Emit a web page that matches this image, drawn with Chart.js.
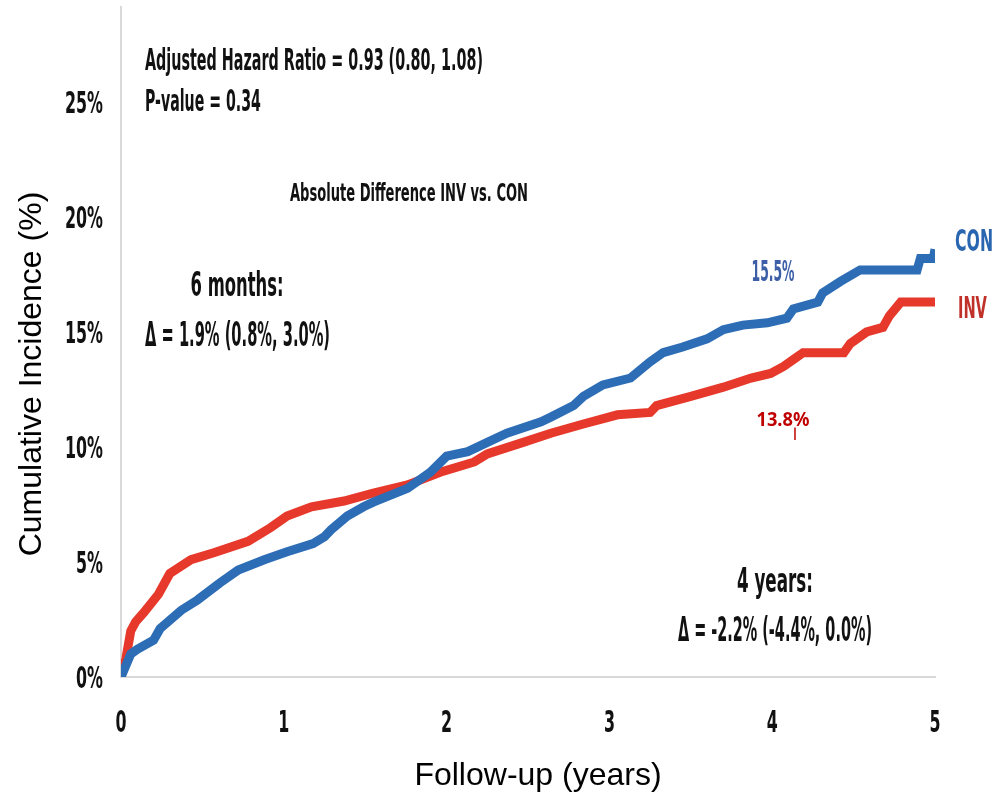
<!DOCTYPE html>
<html>
<head>
<meta charset="utf-8">
<script src="https://cdn.jsdelivr.net/npm/chart.js@4.4.1/dist/chart.umd.min.js"></script>
<style>
    html, body { margin: 0; padding: 0; background: #fff; }
    #wrap { width: 997px; height: 798px; }
</style>
</head>
<body>
<div id="wrap"><canvas id="kmChart" width="997" height="798"></canvas></div>
<script>
// tick values
const xTicks = [0, 1, 2, 3, 4, 5];
const yTicks = [0, 5, 10, 15, 20, 25];

// CON arm (blue) - years / cumulative incidence %
const conYears = [0, 0.06, 0.1, 0.2, 0.24, 0.37, 0.47, 0.61, 0.72, 0.88, 1.02, 1.18, 1.25, 1.29, 1.39, 1.49, 1.55, 1.76, 1.9, 2.0, 2.13, 2.25, 2.37, 2.58, 2.64, 2.78, 2.84, 2.96, 3.13, 3.25, 3.33, 3.45, 3.6, 3.7, 3.82, 3.97, 4.09, 4.13, 4.28, 4.31, 4.42, 4.54, 4.89, 4.91, 4.99, 5.0];
const conPct   = [0, 1.0, 1.2, 1.6, 2.1, 2.9, 3.35, 4.1, 4.65, 5.1, 5.45, 5.8, 6.1, 6.4, 7.0, 7.4, 7.6, 8.2, 8.9, 9.6, 9.8, 10.2, 10.6, 11.1, 11.3, 11.8, 12.2, 12.7, 13.0, 13.7, 14.1, 14.35, 14.7, 15.1, 15.3, 15.4, 15.6, 16.0, 16.3, 16.7, 17.2, 17.7, 17.7, 18.2, 18.2, 18.6];

// INV arm (red)
const invYears = [0, 0.03, 0.06, 0.09, 0.14, 0.23, 0.3, 0.43, 0.57, 0.78, 0.92, 1.02, 1.17, 1.37, 1.55, 1.76, 1.96, 2.17, 2.25, 2.47, 2.64, 2.84, 3.05, 3.25, 3.29, 3.5, 3.7, 3.87, 3.99, 4.07, 4.15, 4.19, 4.44, 4.48, 4.58, 4.68, 4.72, 4.79, 5.0];
const invPct   = [0, 0.8, 2.0, 2.4, 2.8, 3.6, 4.5, 5.1, 5.4, 5.9, 6.5, 7.0, 7.4, 7.65, 8.0, 8.35, 8.9, 9.35, 9.7, 10.2, 10.6, 11.0, 11.4, 11.5, 11.8, 12.2, 12.6, 13.0, 13.2, 13.5, 13.9, 14.1, 14.1, 14.5, 15.0, 15.2, 15.7, 16.3, 16.3];

const BLUE = '#2d6db6';
const RED = '#e6392b';
const NARROW = "'Liberation Sans Narrow', 'DejaVu Sans Condensed', 'Arial Narrow', sans-serif";
const PLAIN = "'Liberation Sans', Arial, sans-serif";

// text notes, placed in data units; w = rendered width (text gets squeezed to fit)
const notes = [
    { text: 'Adjusted Hazard Ratio = 0.93 (0.80, 1.08)', x: 0.147, y: 26.74, size: 30, w: 338, align: 'left' },
    { text: 'P-value = 0.34', x: 0.147, y: 24.96, size: 30, w: 116, align: 'left' },
    { text: 'Absolute Difference INV vs. CON', x: 1.769, y: 20.96, size: 25, w: 238, align: 'center' },
    { text: '6 months:', x: 0.713, y: 16.96, size: 34, w: 93, align: 'center' },
    { text: '\u0394 = 1.9% (0.8%, 3.0%)', x: 0.716, y: 14.78, size: 34, w: 185, align: 'center' },
    { text: '4 years:', x: 4.017, y: 4.09, size: 34, w: 76, align: 'center' },
    { text: '\u0394 = -2.2% (-4.4%, 0.0%)', x: 4.017, y: 1.96, size: 34, w: 194, align: 'center' },
    { text: 'CON', x: 5.24, y: 18.87, size: 30, w: 38, align: 'center', color: '#2a66b0' },
    { text: 'INV', x: 5.23, y: 15.96, size: 30, w: 29, align: 'center', color: '#bf3129' },
    { text: '15.5%', x: 4.005, y: 17.52, size: 28, w: 43, align: 'center', color: '#3d5fa8' },
    { text: '13.8%', x: 4.066, y: 11.13, size: 19, w: 53, align: 'center', color: '#c00000', family: "'Noto Sans', 'Open Sans', sans-serif" }
];

// squeezed fillText, like the condensed face in the original figure
function squeezeText(ctx, text, px, py, sx) {
    ctx.save();
    ctx.translate(px, py);
    ctx.scale(sx, 1);
    ctx.fillText(text, 0, 0);
    ctx.restore();
}

const notesPlugin = {
    id: 'notes',
    afterDatasetsDraw(chart) {
        const { ctx, scales: { x, y } } = chart;

        notes.forEach(n => {
            ctx.save();
            ctx.font = `bold ${n.size}px ${n.family || NARROW}`;
            ctx.fillStyle = n.color || '#111';
            ctx.textBaseline = 'middle';
            ctx.textAlign = n.align;
            const sx = n.w / ctx.measureText(n.text).width;
            squeezeText(ctx, n.text, x.getPixelForValue(n.x), y.getPixelForValue(n.y), sx);
            ctx.restore();
        });

        // little tick under the 13.8% label
        ctx.save();
        ctx.strokeStyle = '#c00000';
        ctx.lineWidth = 1.5;
        ctx.beginPath();
        ctx.moveTo(x.getPixelForValue(4.14), y.getPixelForValue(10.85));
        ctx.lineTo(x.getPixelForValue(4.14), y.getPixelForValue(10.3));
        ctx.stroke();
        ctx.restore();

        // tick labels from the scales, condensed bold
        ctx.save();
        ctx.font = `bold 30px ${NARROW}`;
        ctx.fillStyle = '#111';
        ctx.textBaseline = 'middle';
        const sq = 38 / ctx.measureText('25%').width;
        ctx.textAlign = 'right';
        y.ticks.forEach(t => {
            squeezeText(ctx, t.value + '%', y.left + y.width - 18, y.getPixelForValue(t.value) + 3, sq);
        });
        ctx.textAlign = 'center';
        x.ticks.forEach(t => {
            squeezeText(ctx, String(t.value), x.getPixelForValue(t.value), x.top + 47, sq);
        });
        ctx.restore();

        // axis titles
        ctx.save();
        ctx.font = `32px ${PLAIN}`;
        ctx.fillStyle = '#000';
        ctx.textAlign = 'center';
        ctx.textBaseline = 'middle';
        ctx.fillText('Follow-up (years)', (x.left + x.right) / 2 + 10, x.bottom - 22);
        ctx.translate(y.left + 32, (y.top + y.bottom) / 2 + 32);
        ctx.rotate(-Math.PI / 2);
        ctx.fillText('Cumulative Incidence (%)', 0, 0);
        ctx.restore();
    }
};

function toPoints(xs, ys) {
    return xs.map((v, i) => ({ x: v, y: ys[i] }));
}

const ctx = document.getElementById('kmChart').getContext('2d');
new Chart(ctx, {
    type: 'line',
    data: {
        datasets: [
            {
                label: 'CON',
                data: toPoints(conYears, conPct),
                borderColor: BLUE,
                borderWidth: 9,
                pointRadius: 0,
                tension: 0,
                fill: false
            },
            {
                label: 'INV',
                data: toPoints(invYears, invPct),
                borderColor: RED,
                borderWidth: 9,
                pointRadius: 0,
                tension: 0,
                fill: false
            }
        ]
    },
    options: {
        responsive: false,
        animation: false,
        devicePixelRatio: 1,
        layout: { padding: { top: 7, right: 62, left: 0, bottom: 0 } },
        plugins: {
            legend: { display: false },
            tooltip: { enabled: false }
        },
        scales: {
            x: {
                type: 'linear',
                min: 0,
                max: 5,
                grid: { display: false },
                border: { display: true, color: '#d9d9d9', width: 2 },
                afterBuildTicks: s => { s.ticks = xTicks.map(v => ({ value: v })); },
                afterFit: s => { s.height = 121; s.paddingLeft = 0; s.paddingRight = 0; },
                ticks: { display: false },
                title: { display: false }
            },
            y: {
                type: 'linear',
                min: 0,
                max: 29.13,
                grid: { display: false },
                border: { display: true, color: '#d9d9d9', width: 2 },
                afterBuildTicks: s => { s.ticks = yTicks.map(v => ({ value: v })); },
                afterFit: s => { s.width = 121; s.paddingTop = 0; s.paddingBottom = 0; },
                ticks: { display: false },
                title: { display: false }
            }
        }
    },
    plugins: [notesPlugin]
});
</script>
</body>
</html>
